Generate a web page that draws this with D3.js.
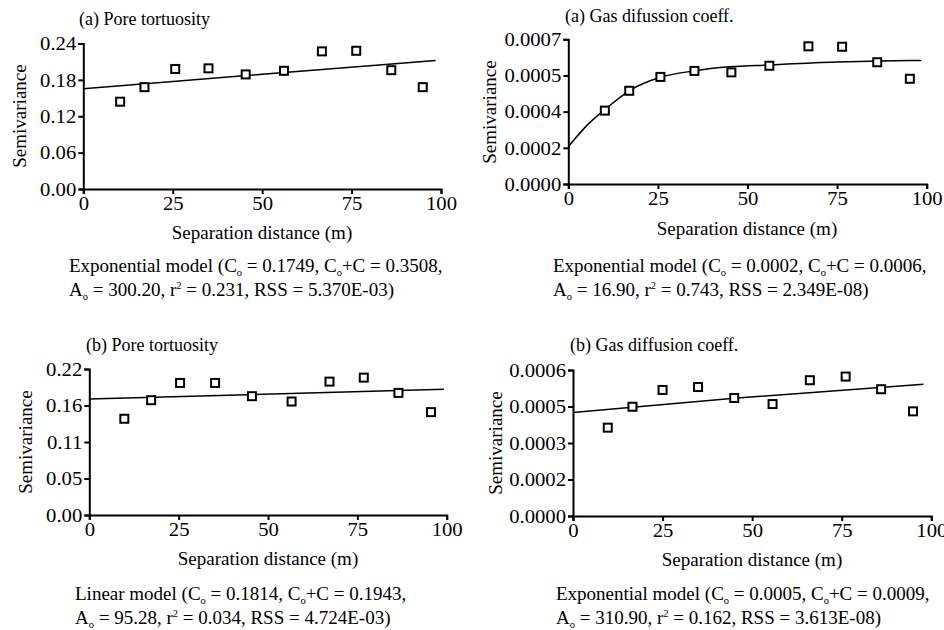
<!DOCTYPE html>
<html><head><meta charset="utf-8">
<script src="https://cdn.jsdelivr.net/npm/d3@7"></script>
<style>
body{margin:0;background:#fff}
svg{display:block}
text{font-family:"Liberation Serif","Times New Roman",Times,serif;fill:#000}
</style>
</head><body>
<svg id="chart" width="944" height="630"></svg>
<script>
// ---------- data ----------
const distTicks = [0, 25, 50, 75, 100];

// (a) Pore tortuosity
const aPoreLag   = [10.3, 17.1, 25.7, 35.0, 45.4, 56.1, 66.7, 76.3, 86.1, 94.9];
const aPoreGamma = [0.144, 0.168, 0.198, 0.199, 0.189, 0.195, 0.227, 0.228, 0.196, 0.168];
const aPoreModelLag   = [0, 50, 98.5];
const aPoreModelGamma = [0.1655, 0.1893, 0.212];
const aPoreYTicks  = [0, 0.06, 0.12, 0.18, 0.24];
const aPoreYLabels = ["0.00", "0.06", "0.12", "0.18", "0.24"];

// (a) Gas diffusion coeff.
const aGasLag   = [10.2, 17.0, 25.7, 35.2, 45.5, 56.1, 67.0, 76.4, 86.2, 95.3];
const aGasGamma = [0.000355, 0.000451, 0.000518, 0.000547, 0.000540, 0.000572, 0.000666, 0.000664, 0.000589, 0.000509];
const aGasModelLag   = [0, 5, 10, 17, 25.7, 35, 45, 56, 75, 87, 98.5];
const aGasModelGamma = [0.00018, 0.00028, 0.000357, 0.000451, 0.000516, 0.000547, 0.000567, 0.000576, 0.00059, 0.000595, 0.000598];
const aGasYTicks  = [0, 0.000175, 0.00035, 0.000525, 0.0007];
const aGasYLabels = ["0.0000", "0.0002", "0.0004", "0.0005", "0.0007"];

// (b) Pore tortuosity
const bPoreLag   = [9.8, 17.3, 25.4, 35.2, 45.5, 56.6, 67.2, 76.8, 86.5, 95.6];
const bPoreGamma = [0.145, 0.173, 0.199, 0.199, 0.179, 0.171, 0.201, 0.207, 0.184, 0.155];
const bPoreModelLag   = [0, 99.2];
const bPoreModelGamma = [0.1748, 0.1894];
const bPoreYTicks  = [0, 0.055, 0.11, 0.165, 0.22];
const bPoreYLabels = ["0.00", "0.05", "0.11", "0.16", "0.22"];

// (b) Gas diffusion coeff.
const bGasLag   = [9.7, 16.6, 25.0, 34.9, 45.0, 55.7, 66.1, 76.1, 86.0, 94.9];
const bGasGamma = [0.000363, 0.000449, 0.000518, 0.000530, 0.000485, 0.000460, 0.000558, 0.000573, 0.000521, 0.000430];
const bGasModelLag   = [0, 45, 97.8];
const bGasModelGamma = [0.000425, 0.000484, 0.000541];
const bGasYTicks  = [0, 0.00015, 0.0003, 0.00045, 0.0006];
const bGasYLabels = ["0.0000", "0.0002", "0.0003", "0.0005", "0.0006"];

const panelTitles = ["(a) Pore tortuosity", "(a) Gas difussion coeff.", "(b) Pore tortuosity", "(b) Gas diffusion coeff."];
const xAxisTitle = "Separation distance (m)";
const yAxisTitle = "Semivariance";
const captions = [
  ["Exponential model (C_{o} = 0.1749, C_{o}+C = 0.3508,", "A_{o} = 300.20, r^{2} = 0.231, RSS = 5.370E-03)"],
  ["Exponential model (C_{o} = 0.0002, C_{o}+C = 0.0006,", "A_{o} = 16.90, r^{2} = 0.743, RSS = 2.349E-08)"],
  ["Linear model (C_{o} = 0.1814, C_{o}+C = 0.1943,", "A_{o} = 95.28, r^{2} = 0.034, RSS = 4.724E-03)"],
  ["Exponential model (C_{o} = 0.0005, C_{o}+C = 0.0009,", "A_{o} = 310.90, r^{2} = 0.162, RSS = 3.613E-08)"]
];

// ---------- render ----------
const panels = [
  {lag:aPoreLag, gamma:aPoreGamma, mLag:aPoreModelLag, mGamma:aPoreModelGamma, yTicks:aPoreYTicks, yLabels:aPoreYLabels},
  {lag:aGasLag,  gamma:aGasGamma,  mLag:aGasModelLag,  mGamma:aGasModelGamma,  yTicks:aGasYTicks,  yLabels:aGasYLabels},
  {lag:bPoreLag, gamma:bPoreGamma, mLag:bPoreModelLag, mGamma:bPoreModelGamma, yTicks:bPoreYTicks, yLabels:bPoreYLabels},
  {lag:bGasLag,  gamma:bGasGamma,  mLag:bGasModelLag,  mGamma:bGasModelGamma,  yTicks:bGasYTicks,  yLabels:bGasYLabels}
];

const layout = [
  {x0:83.3,  x1:441,   y0:189, y1:43.5, title:[79,25],   xlab:[262,239], ylab:[19,116],  cap:[69,272]},
  {x0:568.3, x1:926.7, y0:184, y1:39.3, title:[565,22],  xlab:[747,235], ylab:[489,112], cap:[553,272]},
  {x0:89.3,  x1:446.7, y0:515, y1:369,  title:[86,351],  xlab:[268,565], ylab:[25,442],  cap:[75,600]},
  {x0:573,   x1:931.3, y0:516, y1:370,  title:[570,351], xlab:[752,566], ylab:[495,443], cap:[556,600]}
];

const svg = d3.select("#chart");
const tickFont = 18, tickStretch = 1.15;

function richText(sel, str) {
  const parts = str.split(/(_\{[^}]*\}|\^\{[^}]*\})/).filter(s => s.length);
  let shift = 0;
  parts.forEach(p => {
    let t = sel.append("tspan");
    if (p.startsWith("_{")) {
      t.text(p.slice(2, -1)).attr("font-size", "55%").attr("dy", 4 - shift); shift = 4;
    } else if (p.startsWith("^{")) {
      t.text(p.slice(2, -1)).attr("font-size", "55%").attr("dy", -7 - shift); shift = -7;
    } else {
      t.text(p).attr("dy", -shift); shift = 0;
    }
  });
}

panels.forEach((p, i) => {
  const L = layout[i];
  const g = svg.append("g");
  const x = d3.scaleLinear().domain([0, 100]).range([L.x0, L.x1]);
  const ymax = p.yTicks[p.yTicks.length - 1];
  const y = d3.scaleLinear().domain([0, ymax]).range([L.y0, L.y1]);

  // x axis
  const xa = g.append("g").attr("transform", `translate(0,${L.y0})`)
    .call(d3.axisBottom(x).tickValues(distTicks).tickSize(5).tickPadding(0).tickFormat(d3.format("d")));
  xa.select(".domain").attr("stroke", "#000").attr("stroke-width", 2);
  xa.selectAll(".tick line").attr("stroke", "#000").attr("stroke-width", 2);
  xa.selectAll(".tick text").attr("font-size", tickFont).attr("font-family", null)
    .attr("y", null).attr("dy", null)
    .attr("transform", `translate(0,21) scale(${tickStretch},1)`);

  // y axis
  const ya = g.append("g").attr("transform", `translate(${L.x0},0)`)
    .call(d3.axisLeft(y).tickValues(p.yTicks).tickSize(5).tickPadding(0)
      .tickFormat((d, k) => p.yLabels[k]));
  ya.select(".domain").attr("stroke", "#000").attr("stroke-width", 2);
  ya.selectAll(".tick line").attr("stroke", "#000").attr("stroke-width", 2);
  ya.selectAll(".tick text").attr("font-size", tickFont).attr("font-family", null)
    .attr("x", null).attr("dy", "0.35em")
    .attr("transform", `translate(-7,0) scale(${tickStretch},1)`);
  xa.attr("font-family", null); ya.attr("font-family", null);

  // model curve
  const line = d3.line().x(d => x(d[0])).y(d => y(d[1])).curve(d3.curveMonotoneX);
  g.append("path").datum(d3.zip(p.mLag, p.mGamma)).attr("d", line)
    .attr("fill", "none").attr("stroke", "#000").attr("stroke-width", 1.5);

  // observed points
  g.selectAll("rect.pt").data(d3.zip(p.lag, p.gamma)).join("rect").attr("class", "pt")
    .attr("x", d => x(d[0]) - 4).attr("y", d => y(d[1]) - 4)
    .attr("width", 8).attr("height", 8)
    .attr("fill", "#fff").attr("stroke", "#000").attr("stroke-width", 2);

  // titles
  g.append("text").attr("x", L.title[0]).attr("y", L.title[1]).attr("font-size", 18).text(panelTitles[i]);
  g.append("text").attr("x", L.xlab[0]).attr("y", L.xlab[1]).attr("font-size", 19)
    .attr("text-anchor", "middle").text(xAxisTitle);
  g.append("text").attr("transform", `translate(${L.ylab[0]},${L.ylab[1]}) rotate(-90)`)
    .attr("font-size", 19).attr("text-anchor", "middle").attr("dy", "0.35em").text(yAxisTitle);

  captions[i].forEach((c, k) => {
    const t = g.append("text").attr("x", L.cap[0]).attr("y", L.cap[1] + k * 24).attr("font-size", 19);
    richText(t, c);
  });
});
</script>
</body></html>
